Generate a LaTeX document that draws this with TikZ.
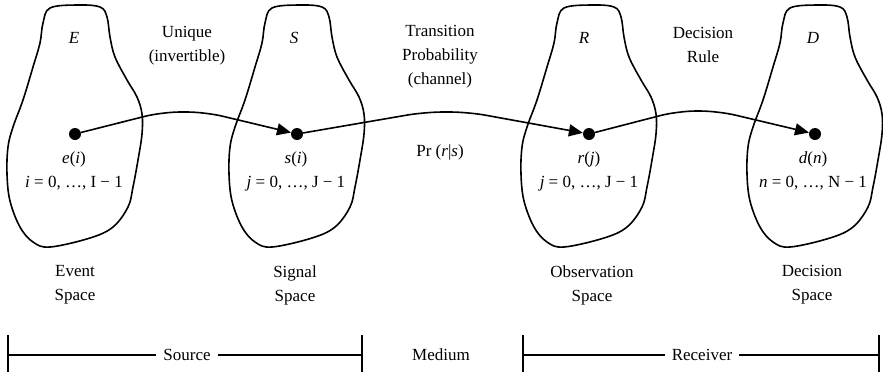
\documentclass[tikz,border=0pt]{standalone}
\usepackage{fontspec}
\setmainfont{Liberation Serif}
\usetikzlibrary{arrows.meta}
\tikzset{
  txt/.style={font=\fontsize{17}{24}\selectfont, align=center, inner sep=0pt},
  pt/.style={circle, fill, inner sep=0pt, minimum size=12pt},
  flow/.style={-{Triangle[length=14pt, width=12pt]}, line width=1.6pt, rounded corners=18pt},
  blob/.pic={
    \draw[line width=1.6pt] plot[smooth cycle, tension=0.6] coordinates {
      (2,-129) (25,-127) (32,-117) (35,-97) (40,-77) (52,-54) (62,-37)
      (67,-20) (67,0) (63,26) (58,53) (53,73) (38,93) (15,104)
      (-25,113) (-42,108) (-55,93) (-65,67) (-68,40) (-67,13) (-62,-7)
      (-52,-34) (-42,-67) (-35,-91) (-32,-111) (-25,-126)};
  }
}
\begin{document}
\begin{tikzpicture}[x=1pt, y=-1pt]
    \useasboundingbox (0,0) rectangle (883,376);
    % the four spaces
    \pic at (75,134) {blob};
    \pic at (297,134) {blob};
    \pic at (589,134) {blob};
    \pic at (815,134) {blob};
    \node (e) at (75,134) [pt] {};
    \node (s) at (297,134) [pt] {};
    \node (r) at (589,134) [pt] {};
    \node (d) at (815,134) [pt] {};
    \node[txt] (eName) at (74,38) {\textit{E}};
    \node[txt] (sName) at (294,38) {\textit{S}};
    \node[txt] (rName) at (584,38) {\textit{R}};
    \node[txt] (dName) at (813,38) {\textit{D}};
    \node[txt] (eLab) at (74,171) {\textit{e}(\textit{i})\\\textit{i} = 0, …, I − 1};
    \node[txt] (sLab) at (296,171) {\textit{s}(\textit{i})\\\textit{j} = 0, …, J − 1};
    \node[txt] (rLab) at (589,171) {\textit{r}(\textit{j})\\\textit{j} = 0, …, J − 1};
    \node[txt] (dLab) at (813,171) {\textit{d}(\textit{n})\\\textit{n} = 0, …, N − 1};
    % mappings
    \node[txt] (uniq) at (187,46) {Unique\\(invertible)};
    \node[txt] (trans) at (440,57) {Transition\\Probability\\(channel)};
    \node[txt] (rule) at (703,45) {Decision\\Rule};
    \node[txt] (prob) at (440,152) {Pr (\textit{r}|\textit{s})};
    \coordinate (es1) at (162,112);
    \coordinate (es2) at (205,112);
    \coordinate (sr1) at (425,112);
    \coordinate (sr2) at (468,112);
    \coordinate (rd1) at (678,111);
    \coordinate (rd2) at (718,111);
    \draw[flow] (e) -- (es1) -- (es2) -- (s);
    \draw[flow] (s) -- (sr1) -- (sr2) -- (r);
    \draw[flow] (r) -- (rd1) -- (rd2) -- (d);
    % space names
    \node[txt] (evt) at (75,285) {Event\\Space};
    \node[txt] (sig) at (295,285) {Signal\\Space};
    \node[txt] (obs) at (592,285) {Observation\\Space};
    \node[txt] (dec) at (812,285) {Decision\\Space};
    % bottom bars
    \node[txt, inner xsep=7pt] (src) at (187,355) {Source};
    \node[txt] (med) at (441,355) {Medium};
    \node[txt, inner xsep=7pt] (rcv) at (702,355) {Receiver};
    \coordinate (srcL) at (8,355);
    \coordinate (srcR) at (362,355);
    \coordinate (rcvL) at (523,355);
    \coordinate (rcvR) at (879,355);
    \draw[line width=1.3pt] (srcL) -- (src) -- (srcR);
    \draw[line width=1.3pt] (rcvL) -- (rcv) -- (rcvR);
    \foreach \p in {srcL, srcR, rcvL, rcvR}
      \draw[line width=1.3pt] ([yshift=20pt]\p) -- ([yshift=-17pt]\p);
\end{tikzpicture}
\end{document}
